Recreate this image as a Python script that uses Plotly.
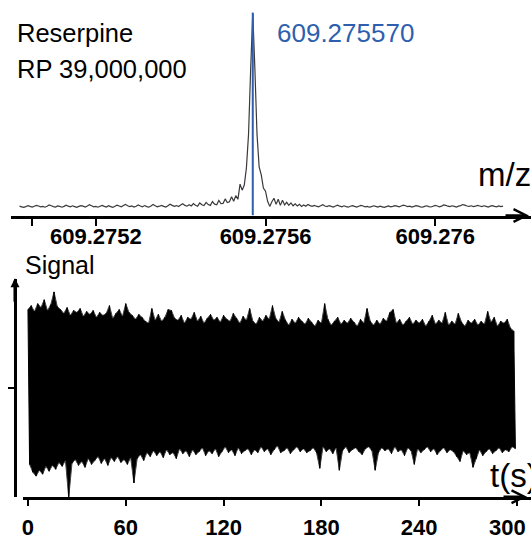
import plotly.graph_objects as go

# ---------------- data: top panel (mass spectrum) ----------------
mz_start = 609.27502
mz_step = 0.000005
intensity = [
    # baseline left of the peak
    4.6, 4.3, 4.0, 4.4, 4.9, 4.5, 4.2, 4.6, 5.0, 4.7, 4.3, 4.5, 4.1, 4.6, 5.2, 4.8, 4.4, 4.2, 4.7, 4.5,
    4.1, 4.5, 5.1, 4.6, 4.3, 4.8, 4.4, 4.0, 4.5, 4.9, 4.6, 4.2, 4.7, 5.3, 4.8, 4.3, 4.5, 4.1, 4.6, 5.0,
    4.5, 4.2, 4.8, 4.4, 4.0, 4.6, 5.1, 4.7, 4.3, 4.9, 5.5, 4.8, 4.4, 4.7, 4.2, 4.6, 5.2, 4.7, 4.3, 4.9,
    4.4, 4.1, 4.7, 5.4, 4.8, 4.3, 4.6, 5.0, 4.5, 4.2, 4.8, 5.6, 5.0, 4.5, 4.9, 4.4, 5.2, 5.8, 5.0, 4.6,
    5.3, 4.7, 5.9, 5.1, 4.6, 6.2, 5.3, 4.9, 6.5, 5.4, 5.0, 6.9, 5.6, 5.3, 7.4, 5.9, 6.0, 8.2, 6.4, 6.8,
    9.3, 7.0, 9.8,
    # peak region
    8.0, 15.5, 12.5, 15.0, 23.5, 40.0, 72.0, 100.0, 72.0, 40.0, 24.0, 20.0, 13.5, 12.0, 7.0,
    # baseline right of the peak
    4.5, 6.8, 8.5, 5.5, 8.0, 5.0, 7.5, 5.2, 6.5, 5.0, 6.2, 4.8, 5.8, 4.7, 5.5, 4.5, 5.2, 4.6, 5.4, 4.9,
    4.5, 5.0, 4.6, 4.3, 4.8, 5.3, 4.7, 4.4, 4.9, 4.5, 4.2, 4.7, 5.1, 4.6, 4.3, 4.8, 4.4, 4.1, 4.6, 4.9,
    4.5, 4.2, 4.6, 5.0, 4.7, 4.3, 4.5, 4.1, 4.4, 4.8, 4.5, 4.2, 4.6, 4.3, 4.0, 4.4, 4.7, 4.3, 4.5, 4.9,
    4.6, 4.3, 4.7, 5.1, 4.8, 4.4, 4.6, 4.2, 4.5, 4.9, 4.6, 4.3, 4.1, 4.5, 4.8, 4.4, 4.2, 4.6, 5.0, 4.7,
    4.3, 4.6, 5.2, 5.0, 4.6, 4.4, 4.8, 4.5, 4.2, 4.6, 4.9, 5.4, 5.1, 4.7, 4.5, 4.8, 4.4, 4.6, 5.0, 4.7,
    4.4, 4.8, 4.5, 4.2, 4.6, 4.9, 4.5, 4.3, 4.7, 4.4, 4.6,
]
mz = [round(mz_start + i * mz_step, 7) for i in range(len(intensity))]

peak_mz = 609.275570
peak_label = "609.275570"
peak_top = 100.0

mz_tickvals = [609.27505, 609.2752, 609.2756, 609.276]
mz_ticktext = ["", "609.2752", "609.2756", "609.276"]

# ---------------- data: bottom panel (transient) ----------------
# positive excursions at even seconds (0, 2, ..., 298)
signal_pos = [
    0.80, 0.84, 0.78, 0.86, 0.82, 0.90, 0.79, 0.85, 0.98, 0.83,
    0.80, 0.76, 0.82, 0.74, 0.79, 0.77, 0.81, 0.73, 0.78, 0.75,
    0.79, 0.72, 0.77, 0.74, 0.76, 0.84, 0.71, 0.76, 0.80, 0.73,
    0.86, 0.77, 0.74, 0.70, 0.75, 0.72, 0.68, 0.66, 0.81, 0.69,
    0.75, 0.68, 0.72, 0.80, 0.79, 0.71, 0.69, 0.74, 0.66, 0.72,
    0.70, 0.77, 0.68, 0.73, 0.66, 0.71, 0.75, 0.69, 0.72, 0.67,
    0.74, 0.70, 0.68, 0.76, 0.71, 0.66, 0.73, 0.69, 0.81, 0.68,
    0.65, 0.72, 0.68, 0.74, 0.70, 0.84, 0.71, 0.67, 0.78, 0.69,
    0.64, 0.70, 0.66, 0.72, 0.68, 0.65, 0.71, 0.67, 0.63, 0.69,
    0.66, 0.86, 0.70, 0.64, 0.68, 0.72, 0.65, 0.69, 0.66, 0.71,
    0.67, 0.63, 0.70, 0.66, 0.81, 0.68, 0.64, 0.69, 0.65, 0.71,
    0.68, 0.77, 0.80, 0.66, 0.70, 0.64, 0.68, 0.72, 0.65, 0.69,
    0.66, 0.70, 0.63, 0.68, 0.74, 0.65, 0.69, 0.66, 0.77, 0.64,
    0.68, 0.65, 0.76, 0.67, 0.63, 0.69, 0.66, 0.70, 0.64, 0.68,
    0.65, 0.78, 0.67, 0.72, 0.63, 0.68, 0.66, 0.70, 0.61, 0.58,
]
# negative excursions at odd seconds (1, 3, ..., 299)
signal_neg = [
    -0.78, -0.86, -0.90, -0.84, -0.88, -0.80, -0.85, -0.79, -0.83, -0.76,
    -0.80, -0.74, -1.12, -0.77, -0.73, -0.79, -0.75, -0.81, -0.72, -0.78,
    -0.74, -0.70, -0.77, -0.72, -0.79, -0.71, -0.75, -0.70, -0.76, -0.73,
    -0.78, -0.71, -0.97, -0.72, -0.68, -0.74, -0.66, -0.70, -0.64, -0.69,
    -0.65, -0.71, -0.63, -0.68, -0.66, -0.72, -0.62, -0.67, -0.64, -0.70,
    -0.63, -0.68, -0.65, -0.61, -0.69, -0.64, -0.67, -0.62, -0.70, -0.65,
    -0.60, -0.66, -0.63, -0.69, -0.61, -0.67, -0.64, -0.62, -0.68, -0.63,
    -0.66, -0.60, -0.65, -0.62, -0.68, -0.63, -0.59, -0.66, -0.64, -0.61,
    -0.67, -0.63, -0.60, -0.65, -0.62, -0.66, -0.64, -0.61, -0.66, -0.82,
    -0.60, -0.65, -0.62, -0.67, -0.61, -0.84, -0.64, -0.60, -0.66, -0.63,
    -0.61, -0.65, -0.68, -0.62, -0.60, -0.64, -0.84, -0.66, -0.61, -0.64,
    -0.62, -0.67, -0.60, -0.65, -0.63, -0.69, -0.61, -0.64, -0.78, -0.62,
    -0.66, -0.63, -0.60, -0.65, -0.62, -0.68, -0.64, -0.61, -0.66, -0.63,
    -0.65, -0.70, -0.75, -0.64, -0.68, -0.66, -0.81, -0.72, -0.63, -0.69,
    -0.65, -0.62, -0.67, -0.64, -0.61, -0.66, -0.63, -0.65, -0.60, -0.62,
]
t_pos = [2 * i for i in range(len(signal_pos))]
t_neg = [2 * i + 1 for i in range(len(signal_neg))]

t_tickvals = [0, 60, 120, 180, 240, 300]
t_ticktext = ["0", "60", "120", "180", "240", ""]
t_last_label = "300"

# interleave the two excursion series into one oscillating time trace
t_all, s_all = [], []
for a, b, c, d in zip(t_pos, signal_pos, t_neg, signal_neg):
    t_all += [a, c]
    s_all += [b, d]

# ---------------- figure ----------------
W, H = 531, 540
FONT = "Liberation Sans, Arial, sans-serif"

fig = go.Figure()
fig.add_trace(go.Scatter(x=mz, y=intensity, mode="lines",
                         line=dict(color="#3a3a3a", width=1.2, simplify=False),
                         xaxis="x", yaxis="y", showlegend=False, hoverinfo="skip"))
fig.add_trace(go.Scatter(x=[peak_mz, peak_mz], y=[0, peak_top], mode="lines",
                         line=dict(color="#2e5fae", width=2),
                         xaxis="x", yaxis="y", showlegend=False, hoverinfo="skip"))
# envelope body of the transient (upper excursions filled down to lower excursions)
fig.add_trace(go.Scatter(x=t_pos, y=signal_pos, mode="lines",
                         line=dict(color="#444444", width=1.0, simplify=False),
                         xaxis="x2", yaxis="y2", showlegend=False, hoverinfo="skip"))
fig.add_trace(go.Scatter(x=t_neg, y=signal_neg, mode="lines", fill="tonexty",
                         fillcolor="black",
                         line=dict(color="#444444", width=1.0, simplify=False),
                         xaxis="x2", yaxis="y2", showlegend=False, hoverinfo="skip"))
# oscillation trace
fig.add_trace(go.Scatter(x=t_all, y=s_all, mode="lines",
                         line=dict(color="black", width=1.0, simplify=False),
                         xaxis="x2", yaxis="y2", showlegend=False, hoverinfo="skip"))

tickfont = dict(family=FONT, size=22, color="black", weight="bold")

def px_x(p):
    return p / W

def px_y(p):
    return 1 - p / H

fig.update_layout(
    width=W, height=H,
    margin=dict(l=0, r=0, t=0, b=0),
    paper_bgcolor="white", plot_bgcolor="white",
    xaxis=dict(domain=[px_x(10), 1], range=[609.275, 609.27622588], anchor="y",
               showline=True, linewidth=3, linecolor="black",
               ticks="outside", ticklen=7, tickwidth=2, tickcolor="black",
               tickvals=mz_tickvals, ticktext=mz_ticktext, tickfont=tickfont,
               ticklabelstandoff=-8,
               showgrid=False, zeroline=False),
    yaxis=dict(domain=[px_y(220), 1], range=[0, 106.28], visible=False),
    xaxis2=dict(domain=[px_x(22), 1], range=[-3.06, 308.57], anchor="y2",
                showline=True, linewidth=3, linecolor="black",
                ticks="outside", ticklen=6, tickwidth=2, tickcolor="black",
                tickvals=t_tickvals, ticktext=t_ticktext, tickfont=tickfont,
                ticklabelstandoff=3,
                showgrid=False, zeroline=False),
    yaxis2=dict(domain=[px_y(507), px_y(285)], range=[-1.11, 1.11], anchor="free",
                position=px_x(14), showline=True, linewidth=3, linecolor="black",
                ticks="outside", ticklen=6, tickwidth=2, tickcolor="black",
                tickvals=[0], showticklabels=False, showgrid=False, zeroline=False),
)

ann = [
    dict(text="Reserpine", x=px_x(14), y=px_y(34), xanchor="left", yanchor="middle",
         font=dict(family=FONT, size=25.5, color="black")),
    dict(text="RP 39,000,000", x=px_x(14), y=px_y(70), xanchor="left", yanchor="middle",
         font=dict(family=FONT, size=25.5, color="black")),
    dict(text=peak_label, x=px_x(275), y=px_y(34), xanchor="left", yanchor="middle",
         font=dict(family=FONT, size=26, color="#2e5fae")),
    dict(text="m/z", x=px_x(504), y=px_y(178), xanchor="center", yanchor="middle",
         font=dict(family=FONT, size=33, color="black")),
    dict(text="Signal", x=px_x(22), y=px_y(270), xanchor="left", yanchor="middle",
         font=dict(family=FONT, size=25, color="black")),
    dict(text="t(s)", x=px_x(488), y=px_y(485), xanchor="left", yanchor="middle",
         font=dict(family=FONT, size=33, color="black")),
    dict(text="<b>" + t_last_label + "</b>", x=px_x(528), y=px_y(538), xanchor="right",
         yanchor="middle", font=dict(family=FONT, size=22, color="black")),
]
for a in ann:
    a.update(xref="paper", yref="paper", showarrow=False)

arrows = [
    dict(x=px_x(529), y=px_y(220), ax=-25, ay=0, arrowhead=5, arrowsize=1, arrowwidth=2.5),
    dict(x=px_x(527), y=px_y(507), ax=-25, ay=0, arrowhead=5, arrowsize=1, arrowwidth=2.5),
    dict(x=px_x(14), y=px_y(284), ax=0, ay=25, arrowhead=2, arrowsize=0.6, arrowwidth=3),
]
for a in arrows:
    a.update(xref="paper", yref="paper", showarrow=True, text="", arrowcolor="black")

fig.update_layout(annotations=ann + arrows)

fig.write_html(
    "out.html",
    config={"displayModeBar": False},
    post_script="document.body.style.margin='0';document.body.style.overflow='hidden';",
)
